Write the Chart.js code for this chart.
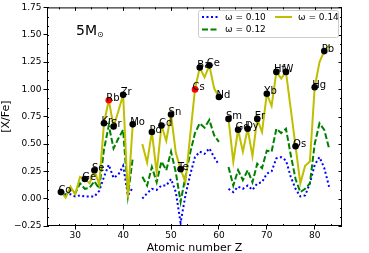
<!DOCTYPE html>
<html>
<head>
<meta charset="utf-8">
<script src="https://cdn.jsdelivr.net/npm/chart.js@4.4.0/dist/chart.umd.min.js"></script>
<style>
  html, body { margin: 0; padding: 0; background: #fff; }
  #wrap { width: 369px; height: 253px; }
</style>
</head>
<body>
<div id="wrap"><canvas id="chart" width="369" height="253"></canvas></div>
<script>
// atomic numbers of the model curves (Tc = 43 and Pm = 61 are gaps)
var zNumbers = [27, 28, 29, 30, 31, 32, 33, 34, 35, 36, 37, 38, 39, 40, 41, 42, 43, 44, 45, 46,
                47, 48, 49, 50, 51, 52, 53, 54, 55, 56, 57, 58, 59, 60, 61, 62, 63, 64, 65, 66,
                67, 68, 69, 70, 71, 72, 73, 74, 75, 76, 77, 78, 79, 80, 81, 82, 83];

// [X/Fe] for omega = 0.10
var w010 = [0.06, 0.04, 0.04, 0.02, 0.03, 0.02, 0.02, 0.02, 0.07, 0.20, 0.31, 0.19, 0.22, 0.30, 0.03, 0.10, null, 0.00, 0.05, 0.09,
            0.08, 0.12, 0.12, 0.18, 0.06, -0.22, 0.03, 0.22, 0.38, 0.43, 0.41, 0.46, 0.38, 0.31, null, 0.09, 0.06, 0.11, 0.09, 0.12,
            0.08, 0.14, 0.15, 0.23, 0.25, 0.37, 0.38, 0.35, 0.20, 0.09, 0.02, 0.03, 0.14, 0.31, 0.38, 0.28, 0.11];

// [X/Fe] for omega = 0.12
var w012 = [0.06, 0.03, 0.08, 0.05, 0.14, 0.09, 0.10, 0.16, 0.09, 0.45, 0.67, 0.46, 0.55, 0.63, 0.03, 0.37, null, 0.20, 0.12, 0.29,
            0.15, 0.34, 0.26, 0.43, 0.24, -0.03, 0.20, 0.42, 0.60, 0.69, 0.65, 0.72, 0.58, 0.52, null, 0.29, 0.12, 0.26, 0.17, 0.26,
            0.15, 0.32, 0.28, 0.44, 0.43, 0.64, 0.60, 0.64, 0.40, 0.18, 0.06, 0.09, 0.14, 0.50, 0.69, 0.63, 0.46];

// [X/Fe] for omega = 0.14
var w014 = [0.06, 0.01, 0.11, 0.04, 0.20, 0.18, 0.14, 0.26, 0.13, 0.69, 0.90, 0.66, 0.80, 0.95, 0.01, 0.68, null, 0.50, 0.33, 0.61,
            0.24, 0.67, 0.53, 0.77, 0.42, 0.27, 0.15, 0.58, 1.00, 1.20, 1.11, 1.22, 1.01, 0.93, null, 0.73, 0.34, 0.63, 0.43, 0.64,
            0.39, 0.73, 0.61, 0.96, 0.85, 1.16, 1.10, 1.16, 0.82, 0.48, 0.14, 0.30, 0.34, 1.02, 1.25, 1.35, 1.40];

// labelled elements (marked on the omega = 0.14 curve)
var labelZ = [27, 32, 34, 36, 37, 38, 40, 42, 46, 48, 50, 52, 55, 56, 58, 60, 62, 64, 66, 68, 70, 72, 74, 76, 80, 82];
var labelNames = ['Co', 'Ge', 'Se', 'Kr', 'Rb', 'Sr', 'Zr', 'Mo', 'Pd', 'Cd', 'Sn', 'Te', 'Cs', 'Ba', 'Ce', 'Nd',
                  'Sm', 'Gd', 'Dy', 'Er', 'Yb', 'Hf', 'W', 'Os', 'Hg', 'Pb'];
var redNames = ['Rb', 'Cs'];

var seriesNames = ['\u03c9 = 0.10', '\u03c9 = 0.12', '\u03c9 = 0.14'];
var xTicks = [30, 40, 50, 60, 70, 80];
var yTicks = [-0.25, 0.00, 0.25, 0.50, 0.75, 1.00, 1.25, 1.50, 1.75];

var FONT = "'DejaVu Sans', sans-serif";
var BLUE = '#0000ff', GREEN = '#008000', OLIVE = '#bfbf00';

function points(vals) {
    return zNumbers.map(function (z, i) { return { x: z, y: vals[i] }; });
}

var markerPoints = labelZ.map(function (z) {
    return { x: z, y: w014[zNumbers.indexOf(z)] };
});
var markerColors = labelNames.map(function (n) {
    return redNames.indexOf(n) >= 0 ? '#ff0000' : '#000000';
});

// minor ticks: 3 divisions between major ticks
function minorValues(major, lo, hi) {
    var step = (major[1] - major[0]) / 3;
    var out = [];
    for (var v = major[0] - 3 * step; v <= hi + 1e-9; v += step) {
        if (v >= lo - 1e-9) out.push(v);
    }
    return out;
}

var decor = {
    id: 'decor',
    afterDatasetsDraw: function (chart) {
        var c = chart.ctx;
        var meta = chart.getDatasetMeta(0);
        c.save();
        c.font = '10px ' + FONT;
        c.fillStyle = '#000';
        c.textAlign = 'left';
        c.textBaseline = 'alphabetic';
        meta.data.forEach(function (el, i) {
            c.fillText(labelNames[i], el.x - 2.5, el.y + 0.5);
        });
        c.restore();
    },
    afterDraw: function (chart) {
        var c = chart.ctx, a = chart.chartArea;
        var xs = chart.scales.x, ys = chart.scales.y;
        c.save();
        // frame
        c.strokeStyle = '#000';
        c.lineWidth = 1;
        c.strokeRect(a.left + 0.5, a.top + 0.5, a.right - a.left - 1, a.bottom - a.top - 1);

        // minor ticks on all sides, major ticks on top / right
        c.beginPath();
        minorValues(xTicks, xs.min, xs.max).forEach(function (v) {
            var px = Math.round(xs.getPixelForValue(v)) + 0.5;
            c.moveTo(px, a.bottom); c.lineTo(px, a.bottom - 2);
            c.moveTo(px, a.top); c.lineTo(px, a.top + 2);
        });
        minorValues(yTicks, ys.min, ys.max).forEach(function (v) {
            var py = Math.round(ys.getPixelForValue(v)) + 0.5;
            c.moveTo(a.left, py); c.lineTo(a.left + 2, py);
            c.moveTo(a.right, py); c.lineTo(a.right - 2, py);
        });
        xTicks.forEach(function (v) {
            var px = Math.round(xs.getPixelForValue(v)) + 0.5;
            c.moveTo(px, a.top); c.lineTo(px, a.top + 3.5);
        });
        yTicks.forEach(function (v) {
            var py = Math.round(ys.getPixelForValue(v)) + 0.5;
            c.moveTo(a.right, py); c.lineTo(a.right - 3.5, py);
        });
        c.stroke();

        // 5 M_sun
        c.fillStyle = '#000';
        c.textBaseline = 'alphabetic';
        c.font = '14px ' + FONT;
        c.fillText('5M', a.left + 29, a.top + 28);
        c.font = '8px ' + FONT;
        c.fillText('\u2299', a.left + 50, a.top + 30);

        // legend
        var lx = 198, ly = 10, lw = 140, lh = 27;
        c.fillStyle = 'rgba(255,255,255,0.85)';
        c.strokeStyle = '#cccccc';
        c.lineWidth = 1;
        c.beginPath();
        c.roundRect(lx + 0.5, ly + 0.5, lw, lh, 2);
        c.fill();
        c.stroke();
        var items = [
            { col: BLUE, dash: [2, 2.5], x: 202, y: 17 },
            { col: GREEN, dash: [6, 2.5], x: 202, y: 29.5 },
            { col: OLIVE, dash: [], x: 275, y: 17 }
        ];
        c.font = '9px ' + FONT;
        c.textBaseline = 'middle';
        items.forEach(function (it, i) {
            c.strokeStyle = it.col;
            c.lineWidth = 2;
            c.setLineDash(it.dash);
            c.beginPath();
            c.moveTo(it.x, it.y); c.lineTo(it.x + 17, it.y);
            c.stroke();
            c.setLineDash([]);
            c.fillStyle = '#000';
            c.fillText(seriesNames[i], it.x + 23, it.y + 0.5);
        });
        c.restore();
    }
};

var ctx = document.getElementById('chart').getContext('2d');
var chart = new Chart(ctx, {
    type: 'line',
    data: {
        datasets: [{
            label: 'labelled',
            data: markerPoints,
            showLine: false,
            pointRadius: 3.3,
            pointBackgroundColor: markerColors,
            pointBorderColor: markerColors,
            pointBorderWidth: 0,
            order: 0
        }, {
            label: seriesNames[2],
            data: points(w014),
            borderColor: OLIVE,
            borderWidth: 2,
            pointRadius: 0,
            tension: 0,
            spanGaps: false,
            order: 1
        }, {
            label: seriesNames[1],
            data: points(w012),
            borderColor: GREEN,
            borderWidth: 2,
            borderDash: [6, 2.5],
            pointRadius: 0,
            tension: 0,
            spanGaps: false,
            order: 2
        }, {
            label: seriesNames[0],
            data: points(w010),
            borderColor: BLUE,
            borderWidth: 2,
            borderDash: [2, 2.5],
            pointRadius: 0,
            tension: 0,
            spanGaps: false,
            order: 3
        }]
    },
    options: {
        responsive: false,
        animation: false,
        devicePixelRatio: 1,
        layout: { padding: { left: 0, right: 27, top: 7, bottom: 0 } },
        plugins: {
            legend: { display: false },
            tooltip: { enabled: false }
        },
        scales: {
            x: {
                type: 'linear',
                min: 24.1,
                max: 85.7,
                afterBuildTicks: function (s) { s.ticks = xTicks.map(function (v) { return { value: v }; }); },
                afterFit: function (s) { s.height = 27; },
                grid: { drawOnChartArea: false, drawTicks: true, tickLength: 3.5, color: '#000' },
                border: { display: false },
                ticks: { color: '#000', padding: 1, font: { family: FONT, size: 9 }, maxRotation: 0 },
                title: { display: true, text: 'Atomic number Z', color: '#000', padding: { top: 0, bottom: -2 }, font: { family: FONT, size: 11 } }
            },
            y: {
                min: -0.25,
                max: 1.75,
                afterBuildTicks: function (s) { s.ticks = yTicks.map(function (v) { return { value: v }; }); },
                afterFit: function (s) { s.width = 47; },
                grid: { drawOnChartArea: false, drawTicks: true, tickLength: 3.5, color: '#000' },
                border: { display: false },
                ticks: {
                    color: '#000', padding: 2, font: { family: FONT, size: 9 },
                    callback: function (v) { return (v < 0 ? '\u2212' : '') + Math.abs(v).toFixed(2); }
                },
                title: { display: true, text: '[X/Fe]', color: '#000', padding: { top: 0, bottom: 2 }, font: { family: FONT, size: 11 } }
            }
        }
    },
    plugins: [decor]
});
</script>
</body>
</html>
